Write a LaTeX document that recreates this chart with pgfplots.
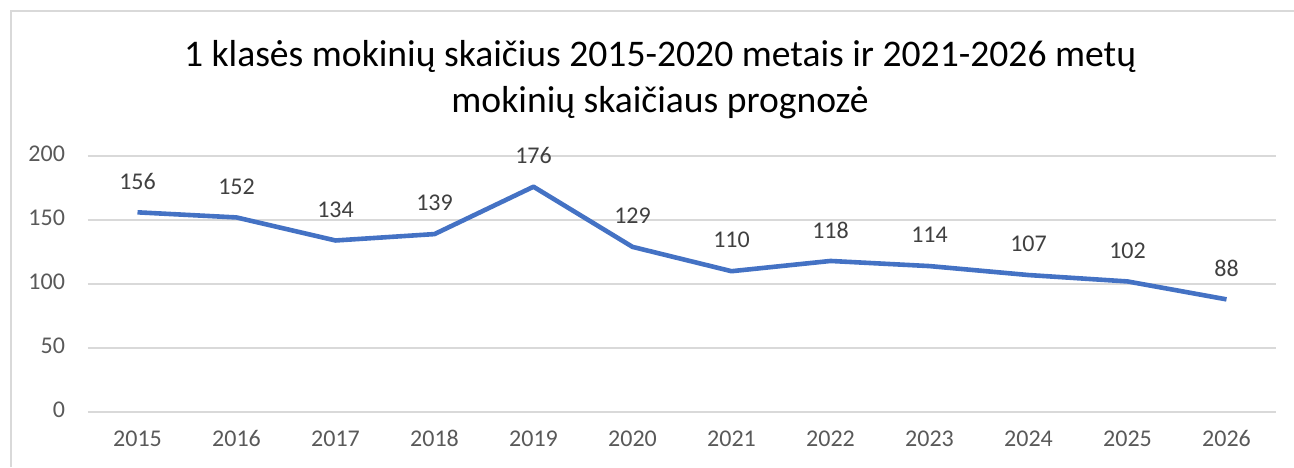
\documentclass[border=0pt]{standalone}
\usepackage{fontspec}
\setmainfont{Carlito}
\usepackage{pgfplots}
\pgfplotsset{compat=1.18}
\definecolor{linebl}{HTML}{4472C4}
\definecolor{gridg}{HTML}{D9D9D9}
\definecolor{txtg}{HTML}{595959}
\definecolor{lblg}{HTML}{404040}
\begin{document}
\begin{tikzpicture}
\path[use as bounding box] (0pt,0pt) rectangle (647pt,233.5pt);
\draw[gridg, line width=0.7pt] (5.5pt,0pt) -- (5.5pt,228pt) -- (647pt,228pt);
\node[align=center, font=\fontsize{18.8}{23}\selectfont, text=black] at (330pt,193.5pt)
  {1 klasės mokinių skaičius 2015-2020 metais ir 2021-2026 metų\\mokinių skaičiaus prognozė};
\begin{axis}[
  at={(44pt,27.5pt)}, anchor=south west,
  width=594pt, height=128pt, scale only axis,
  xmin=-0.5, xmax=11.5, ymin=0, ymax=200,
  xtick={0,...,11},
  xticklabels={2015,2016,2017,2018,2019,2020,2021,2022,2023,2024,2025,2026},
  ytick={0,50,100,150,200},
  major tick length=0pt,
  ymajorgrids, grid style={gridg, line width=0.6pt},
  axis line style={draw=none},
  tick label style={font=\fontsize{12}{14}\selectfont, text=txtg},
  typeset ticklabels with strut,
  /pgf/number format/assume math mode=true,
  yticklabel style={xshift=-8pt},
  xticklabel style={yshift=-4pt},
  clip=false,
]
\addplot[linebl, line width=2.3pt, line join=round, mark=none,
  nodes near coords,
  every node near coord/.append style={font=\fontsize{12}{14}\selectfont, text=lblg, anchor=center, yshift=15.5pt}]
coordinates {
(0,156) (1,152) (2,134) (3,139) (4,176) (5,129)
(6,110) (7,118) (8,114) (9,107) (10,102) (11,88)
};
\end{axis}
\end{tikzpicture}
\end{document}
